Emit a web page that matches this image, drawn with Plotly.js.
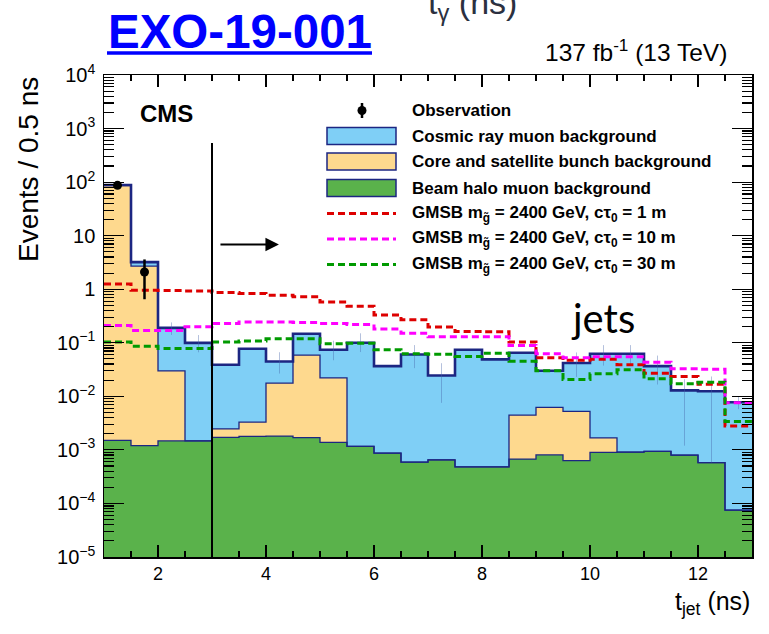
<!DOCTYPE html>
<html>
<head>
<meta charset="utf-8">
<script src="https://cdn.plot.ly/plotly-3.0.1.min.js"></script>
<style>html,body{margin:0;padding:0;background:#fff;}#plot{width:769px;height:634px;}</style>
</head>
<body>
<div id="plot"></div>
<script>
// ---- data ----
const binEdges = [1,1.5,2,2.5,3,3.5,4,4.5,5,5.5,6,6.5,7,7.5,8,8.5,9,9.5,10,10.5,11,11.5,12,12.5,13];
const beamHalo = [1.5e-3,1.2e-3,1.47e-3,1.47e-3,1.71e-3,1.79e-3,1.8e-3,1.7e-3,1.38e-3,1.16e-3,8.7e-4,5.9e-4,6.5e-4,4.8e-4,4.8e-4,6.7e-4,8.1e-4,6.3e-4,9.0e-4,9.1e-4,9.4e-4,8.0e-4,5.8e-4,7.5e-5];
const coreSat  = [86,2.7,0.0285,0,7.5e-4,1.5e-3,0.0158,0.057,0.0208,0,0,0,0,0,0,3.8e-3,5.4e-3,4.6e-3,7.7e-4,0,0,0,0,0];
const cosmic   = [2.5,0.5,0.16,0.098,0.0365,0.074,0.027,0.089,0.052,0.099,0.0357,0.060,0.0239,0.0735,0.0485,0.0605,0.0238,0.0368,0.0608,0.0616,0.0357,0.0121,0.0119,0.0077];
const bkgErrUp   = [0,0,0.05,0.04,0,0,0.022,0,0.035,0.05,0,0.03,0.017,0,0,0,0,0.024,0.028,0.028,0.021,0.008,0.011,0.002];
const bkgErrDown = [0,0,0.05,0.033,0,0,0.018,0,0.027,0.033,0,0.027,0.017,0,0,0,0,0.019,0.025,0.025,0.02,0.0117,0.0119,0.002];
const sig1m  = [1.25,0.96,0.95,0.93,0.87,0.83,0.77,0.72,0.58,0.48,0.33,0.27,0.197,0.163,0.16,0.103,0.0526,0.047,0.049,0.039,0.027,0.0235,0.0168,0.0028];
const sig10m = [0.21,0.17,0.17,0.20,0.23,0.245,0.245,0.24,0.23,0.22,0.18,0.15,0.13,0.13,0.13,0.089,0.0625,0.0526,0.055,0.055,0.0435,0.0327,0.032,0.0076];
const sig30m = [0.103,0.086,0.078,0.078,0.103,0.108,0.119,0.119,0.096,0.098,0.074,0.0625,0.061,0.0556,0.064,0.045,0.030,0.0206,0.0264,0.0313,0.0213,0.0172,0.0184,0.0034];
const obsX = [1.25,1.75];
const obsY = [87,2.1];
const obsErrUp = [9.3,1.5];
const obsErrDown = [9.3,1.45];

// ---- styles ----
const C = {blue:'#7fcff6', orange:'#fed98e', green:'#5ab24b', navy:'#1c2682',
           red:'#dd0000', magenta:'#ff00ff', dgreen:'#009a00'};
const FONT = 'Liberation Sans, Arial, Helvetica, sans-serif';

const centers = binEdges.slice(0,-1).map((e,i)=>(e+binEdges[i+1])/2);
const cumOrange = beamHalo.map((g,i)=>g+coreSat[i]);
const cumTotal = cumOrange.map((o,i)=>o+cosmic[i]);
const stepY = v => v.concat([v[v.length-1]]);

function bar(y,color){
  return {type:'bar', x:centers, y:y, width:0.5, marker:{color:color, line:{width:0}}, hoverinfo:'skip'};
}
function step(y,color,width,dash){
  return {type:'scatter', mode:'lines', x:binEdges, y:stepY(y),
          line:{shape:'hv', color:color, width:width, dash:dash||'solid'}, hoverinfo:'skip'};
}

const data = [
  bar(beamHalo,C.green), bar(coreSat,C.orange), bar(cosmic,C.blue),
  step(beamHalo,C.navy,1.3), step(cumOrange,C.navy,1.3), step(cumTotal,C.navy,2.6),
  {type:'scatter', mode:'markers', x:centers, y:cumTotal, marker:{size:1,color:'rgba(0,0,0,0)'},
   error_y:{type:'data', symmetric:false, array:bkgErrUp, arrayminus:bkgErrDown, color:'rgba(70,100,170,0.4)', thickness:1, width:0}, hoverinfo:'skip'},
  step(sig1m,C.red,3,'7px,4px'),
  step(sig10m,C.magenta,3,'7px,4px'),
  step(sig30m,C.dgreen,3,'7px,4px'),
  {type:'scatter', mode:'markers', x:obsX, y:obsY, marker:{size:9,color:'#000'},
   error_y:{type:'data', symmetric:false, array:obsErrUp, arrayminus:obsErrDown, color:'#000', thickness:2.5, width:0}, hoverinfo:'skip'}
];

// pixel -> paper helpers for decorations
const L=104, R=752, T=75, B=557;
const fx = p => (p-L)/(R-L);
const fy = p => (B-p)/(B-T);

const legendRows = [
  {text:'Observation', y:110.5, kind:'obs'},
  {text:'Cosmic ray muon background', y:136, kind:'box', color:C.blue},
  {text:'Core and satellite bunch background', y:161.5, kind:'box', color:C.orange},
  {text:'Beam halo muon background', y:188, kind:'box', color:C.green},
  {text:'GMSB m<sub>g̃</sub> = 2400 GeV, cτ<sub>0</sub> = 1 m', y:213.5, kind:'line', color:C.red},
  {text:'GMSB m<sub>g̃</sub> = 2400 GeV, cτ<sub>0</sub> = 10 m', y:239, kind:'line', color:C.magenta},
  {text:'GMSB m<sub>g̃</sub> = 2400 GeV, cτ<sub>0</sub> = 30 m', y:264.5, kind:'line', color:C.dgreen}
];

const shapes = [
  {type:'line', xref:'x', yref:'paper', x0:3, x1:3, y0:0, y1:fy(143), line:{color:'#000', width:2}},
  {type:'line', xref:'paper', yref:'paper', x0:fx(107), x1:fx(372), y0:fy(53), y1:fy(53), line:{color:'#0000ff', width:3.5}}
];
const annotations = [
  {xref:'paper', yref:'paper', x:fx(106), y:fy(31), xanchor:'left', yanchor:'middle', showarrow:false,
   text:'<b>EXO-19-001</b>', font:{family:FONT, size:47.5, color:'#0000ff'}},
  {xref:'paper', yref:'paper', x:fx(472), y:fy(4), xanchor:'center', yanchor:'middle', showarrow:false,
   text:'t<sub>γ</sub> (ns)', font:{family:FONT, size:34, color:'#2b3040'}},
  {xref:'paper', yref:'paper', x:fx(729), y:fy(51), xanchor:'right', yanchor:'middle', showarrow:false,
   text:'137 fb<sup>-1</sup> (13 TeV)', font:{family:FONT, size:24.5, color:'#000'}},
  {xref:'paper', yref:'paper', x:fx(138), y:fy(113), xanchor:'left', yanchor:'middle', showarrow:false,
   text:'<b>CMS</b>', font:{family:FONT, size:24, color:'#000'}},
  {xref:'paper', yref:'paper', x:fx(603), y:fy(318), xanchor:'center', yanchor:'middle', showarrow:false,
   text:'jets', font:{family:'Lato, Open Sans, sans-serif', size:40, color:'#000'}},
  {xref:'paper', yref:'paper', x:fx(28), y:fy(170), xanchor:'center', yanchor:'middle', showarrow:false, textangle:-90,
   text:'Events / 0.5 ns', font:{family:FONT, size:28, color:'#000'}},
  {xref:'paper', yref:'paper', x:1, y:fy(603), xanchor:'right', yanchor:'middle', showarrow:false,
   text:'t<sub>jet</sub> (ns)', font:{family:FONT, size:25, color:'#000'}},
  {xref:'x', yref:'paper', x:4.24, y:fy(244.5), ax:-60, ay:0, showarrow:true, arrowhead:2, arrowsize:1.35, arrowwidth:2, arrowcolor:'#000', text:''}
];

legendRows.forEach(r=>{
  annotations.push({xref:'paper', yref:'paper', x:fx(410), y:fy(r.y), xanchor:'left', yanchor:'middle', showarrow:false,
    text:'<b>'+r.text+'</b>', font:{family:FONT, size:17, color:'#000'}});
  if(r.kind==='box'){
    shapes.push({type:'rect', xref:'paper', yref:'paper', x0:fx(327), x1:fx(396), y0:fy(r.y+8.5), y1:fy(r.y-8.5),
      fillcolor:r.color, line:{color:C.navy, width:1.5}});
  } else if(r.kind==='line'){
    shapes.push({type:'line', xref:'paper', yref:'paper', x0:fx(327), x1:fx(396), y0:fy(r.y), y1:fy(r.y),
      line:{color:r.color, width:3, dash:'7px,4px'}});
  } else {
    shapes.push({type:'line', xref:'paper', yref:'paper', x0:fx(362), x1:fx(362), y0:fy(103), y1:fy(118), line:{color:'#000', width:2.5}});
    shapes.push({type:'circle', xref:'paper', yref:'paper', x0:fx(357.5), x1:fx(366.5), y0:fy(106), y1:fy(115),
      fillcolor:'#000', line:{color:'#000', width:0}});
  }
});

const layout = {
  width:769, height:634,
  margin:{l:L, r:769-R, t:T, b:634-B, pad:0},
  paper_bgcolor:'#fff', plot_bgcolor:'#fff',
  showlegend:false, barmode:'stack', bargap:0,
  font:{family:FONT, color:'#000'},
  xaxis:{range:[1,13], tickmode:'linear', tick0:0, dtick:2, ticks:'inside', ticklen:12, tickwidth:1.2, tickcolor:'#000',
    showline:true, linecolor:'#000', linewidth:1.5, mirror:'ticks', showgrid:false, zeroline:false,
    tickfont:{family:FONT, size:18, color:'#000'},
    minor:{dtick:0.5, ticks:'inside', ticklen:6, tickwidth:1.2, tickcolor:'#000', showgrid:false}},
  yaxis:{type:'log', range:[-5,4], tickmode:'linear', dtick:1, exponentformat:'power',
    ticks:'inside', ticklen:20, tickwidth:1.2, tickcolor:'#000',
    showline:true, linecolor:'#000', linewidth:1.5, mirror:'ticks', showgrid:false, zeroline:false,
    tickfont:{family:FONT, size:16, color:'#000'}, ticklabelstandoff:4,
    minor:{dtick:'D1', ticks:'inside', ticklen:10, tickwidth:1.2, tickcolor:'#000', showgrid:false}},
  shapes:shapes,
  annotations:annotations
};

Plotly.newPlot('plot', data, layout, {displayModeBar:false, staticPlot:true});
</script>
</body>
</html>
